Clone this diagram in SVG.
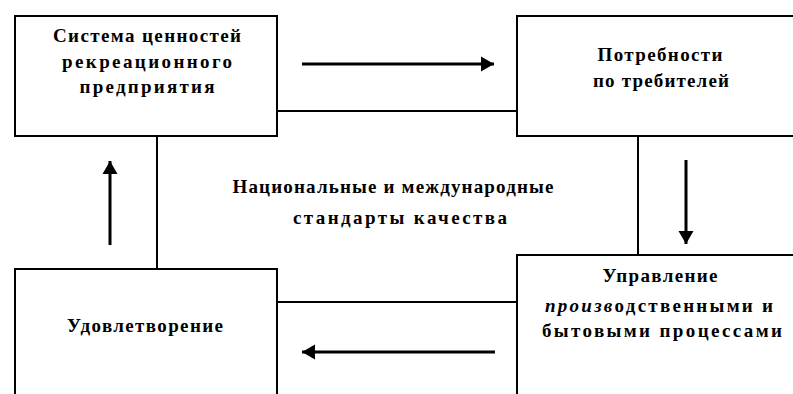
<svg xmlns="http://www.w3.org/2000/svg" width="793" height="394" viewBox="0 0 793 394">
<style>
.box{fill:#fff;stroke:#000;stroke-width:2}
.frame{fill:none;stroke:#000;stroke-width:2}
.arr{stroke:#000;stroke-width:3;fill:none;marker-end:url(#ah)}
text{font-family:"Liberation Serif","Times New Roman",serif;font-weight:bold;font-size:19px;fill:#000;text-anchor:middle}
</style>
<defs>
<marker id="ah" markerUnits="userSpaceOnUse" markerWidth="14" markerHeight="16" refX="13" refY="8" orient="auto">
<path d="M0,0.5 L13,8 L0,15.5 z" fill="#000"/>
</marker>
</defs>
<g id="connectors">
<rect class="frame" x="157" y="111" width="481" height="191"/>
<line class="arr" x1="302" y1="64" x2="494" y2="64"/>
<line class="arr" x1="110" y1="245" x2="110" y2="161"/>
<line class="arr" x1="686" y1="160" x2="686" y2="244"/>
<line class="arr" x1="495" y1="352" x2="302" y2="352"/>
</g>
<g id="n1">
<rect class="box" x="15" y="16" width="262" height="120"/>
<text x="147" y="42" textLength="188" lengthAdjust="spacing">Система ценностей</text>
<text x="147" y="68" textLength="170" lengthAdjust="spacing">рекреационного</text>
<text x="147" y="93" textLength="135" lengthAdjust="spacing">предприятия</text>
</g>
<g id="n2">
<rect class="box" x="517" y="16" width="300" height="120"/>
<text x="660" y="61" textLength="125" lengthAdjust="spacing">Потребности</text>
<text x="661" y="87" textLength="136" lengthAdjust="spacing">по требителей</text>
</g>
<g id="n3">
<rect class="box" x="517" y="255" width="300" height="150"/>
<text x="660" y="282" textLength="115" lengthAdjust="spacing">Управление</text>
<text x="659" y="312" textLength="228" lengthAdjust="spacing"><tspan font-style="italic">произв</tspan>одственными и</text>
<text x="662" y="337" textLength="240" lengthAdjust="spacing">бытовыми процессами</text>
</g>
<g id="n4">
<rect class="box" x="15" y="269" width="262" height="150"/>
<text x="145" y="332" textLength="156" lengthAdjust="spacing">Удовлетворение</text>
</g>
<g id="center">
<text x="393" y="193" textLength="321" lengthAdjust="spacing">Национальные и международные</text>
<text x="400" y="224" textLength="214" lengthAdjust="spacing">стандарты качества</text>
</g>
</svg>
